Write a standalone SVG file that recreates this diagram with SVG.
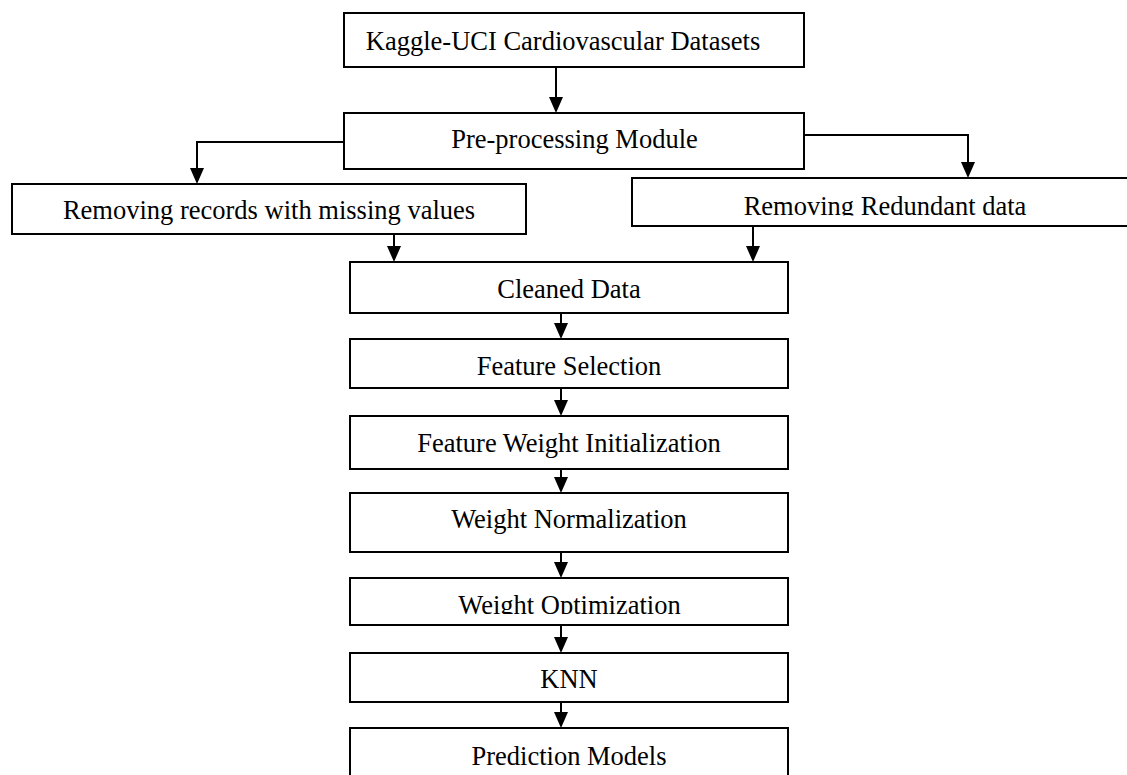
<svg xmlns="http://www.w3.org/2000/svg" width="1127" height="775" viewBox="0 0 1127 775">
<style>
.box{fill:#fff;stroke:#000;stroke-width:2}
.t{font-family:"Liberation Serif","Times New Roman",serif;font-size:26.5px;fill:#000;text-anchor:middle}
.c{fill:none;stroke:#000;stroke-width:2;marker-end:url(#ah)}
</style>
<defs>
<marker id="ah" viewBox="0 0 16 14" refX="13" refY="7" markerWidth="16" markerHeight="14" markerUnits="userSpaceOnUse" orient="auto">
<path d="M0,0 L16,7 L0,14 z" fill="#000"/>
</marker>
<clipPath id="clipRed"><rect x="630" y="178" width="500" height="37.5"/></clipPath>
<clipPath id="clipWO"><rect x="350" y="578" width="440" height="36"/></clipPath>
</defs>
<rect width="1127" height="775" fill="#fff"/>
<g id="connectors">
<path class="c" d="M556,67 V110"/>
<path class="c" d="M344,142 H197 V181"/>
<path class="c" d="M804,135 H968 V175"/>
<path class="c" d="M394,234 V259"/>
<path class="c" d="M753,226 V259"/>
<path class="c" d="M561,313 V336"/>
<path class="c" d="M561,388 V413"/>
<path class="c" d="M561,469 V490"/>
<path class="c" d="M561,552 V575"/>
<path class="c" d="M561,625 V650"/>
<path class="c" d="M561,702 V725"/>
</g>
<g id="kaggle">
<rect class="box" x="344" y="13" width="460" height="54"/>
<text class="t" x="563" y="50">Kaggle-UCI Cardiovascular Datasets</text>
</g>
<g id="preprocessing">
<rect class="box" x="344" y="113" width="460" height="56"/>
<text class="t" x="574.5" y="148">Pre-processing Module</text>
</g>
<g id="missing">
<rect class="box" x="12" y="184" width="514" height="50"/>
<text class="t" x="269" y="219">Removing records with missing values</text>
</g>
<g id="redundant">
<rect class="box" x="632" y="178" width="510" height="48"/>
<text class="t" x="885" y="215" clip-path="url(#clipRed)">Removing Redundant data</text>
</g>
<g id="cleaned">
<rect class="box" x="350" y="262" width="438" height="51"/>
<text class="t" x="569" y="298">Cleaned Data</text>
</g>
<g id="featureSelection">
<rect class="box" x="350" y="339" width="438" height="49"/>
<text class="t" x="569" y="375">Feature Selection</text>
</g>
<g id="featureWeightInit">
<rect class="box" x="350" y="416" width="438" height="53"/>
<text class="t" x="569" y="452">Feature Weight Initialization</text>
</g>
<g id="weightNorm">
<rect class="box" x="350" y="493" width="438" height="59"/>
<text class="t" x="569" y="528">Weight Normalization</text>
</g>
<g id="weightOpt">
<rect class="box" x="350" y="578" width="438" height="47"/>
<text class="t" x="569.5" y="614" clip-path="url(#clipWO)">Weight Optimization</text>
</g>
<g id="knn">
<rect class="box" x="350" y="653" width="438" height="49"/>
<text class="t" x="569" y="688">KNN</text>
</g>
<g id="prediction">
<rect class="box" x="350" y="728" width="438" height="70"/>
<text class="t" x="569" y="765">Prediction Models</text>
</g>
</svg>
